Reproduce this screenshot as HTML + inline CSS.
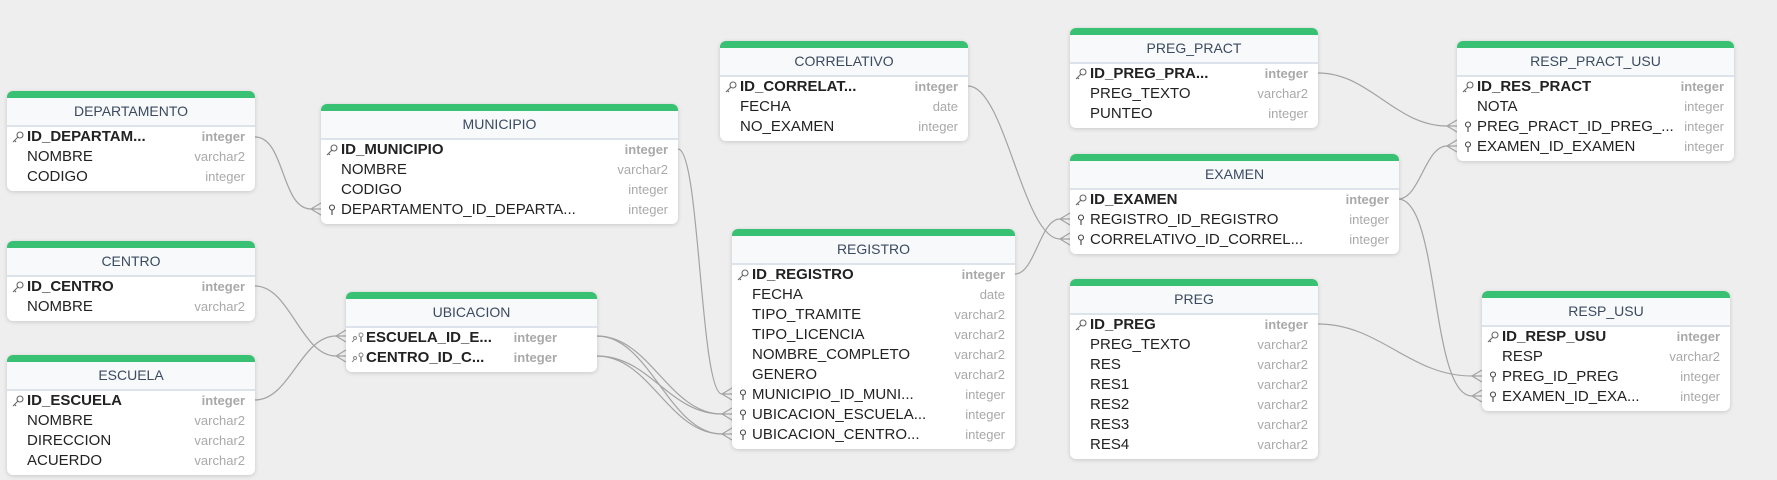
<!DOCTYPE html>
<html><head><meta charset="utf-8">
<style>
body{margin:0;width:1777px;height:480px;background:#eeeeee;position:relative;overflow:hidden;font-family:"Liberation Sans",sans-serif}
svg.c{position:absolute;left:0;top:0;z-index:0}
.t{position:absolute;background:#fff;border-radius:6px;box-shadow:0 1px 4px rgba(0,0,0,.16);border-top:7px solid #38c172;padding-bottom:4px;z-index:1}
.h{height:27px;line-height:27px;text-align:center;font-size:14px;color:#3b4a5f;background:#f7f9fb;border-bottom:2px solid #dde3ea}
.r{height:20px;position:relative;font-size:15px;line-height:20px;color:#222;white-space:nowrap}
.n{position:absolute;left:20px}
.ty{position:absolute;right:10px;font-size:13px;color:#a9a9a9}
.b .n,.b .ty{font-weight:bold}
.i{position:absolute;left:5px;top:4px}
</style></head><body>
<svg class="c" width="1777" height="480" fill="none" stroke="#a3a3a3" stroke-width="1.2">
<path d="M255,137 C285,137 281,209 311,209"/>
<path d="M678,149 C700,149 700,394 722,394"/>
<path d="M255,286 C290,286 301,356 336,356"/>
<path d="M255,400 C290,400 301,336 336,336"/>
<path d="M597,336 C650,336 669,414 722,414"/>
<path d="M597,336 C650,336 669,434 722,434"/>
<path d="M597,356 C650,356 669,414 722,414"/>
<path d="M597,356 C650,356 669,434 722,434"/>
<path d="M968,86 C1005,86 1023,239 1060,239"/>
<path d="M1015,274 C1035,274 1040,219 1060,219"/>
<path d="M1318,73 C1370,73 1395,126 1447,126"/>
<path d="M1398,199 C1420,199 1425,146 1447,146"/>
<path d="M1398,199 C1440,199 1430,396 1472,396"/>
<path d="M1318,324 C1380,324 1410,376 1472,376"/>
<g>
<path d="M321,203 L311,209 L321,215 M311,209 L321,209"/>
<path d="M732,388 L722,394 L732,400 M722,394 L732,394"/>
<path d="M346,350 L336,356 L346,362 M336,356 L346,356"/>
<path d="M346,330 L336,336 L346,342 M336,336 L346,336"/>
<path d="M732,408 L722,414 L732,420 M722,414 L732,414"/>
<path d="M732,428 L722,434 L732,440 M722,434 L732,434"/>
<path d="M1070,233 L1060,239 L1070,245 M1060,239 L1070,239"/>
<path d="M1070,213 L1060,219 L1070,225 M1060,219 L1070,219"/>
<path d="M1457,120 L1447,126 L1457,132 M1447,126 L1457,126"/>
<path d="M1457,140 L1447,146 L1457,152 M1447,146 L1457,146"/>
<path d="M1482,390 L1472,396 L1482,402 M1472,396 L1482,396"/>
<path d="M1482,370 L1472,376 L1482,382 M1472,376 L1482,376"/>
</g>
</svg>

<!-- DEPARTAMENTO -->
<div class="t" style="left:7px;top:91px;width:248px">
<div class="h">DEPARTAMENTO</div>
<div class="r b"><svg class="i" width="12" height="12" fill="none" stroke="#666" stroke-width="1.1"><circle cx="8" cy="4" r="3"/><path d="M6,6 L1,11 M2.5,9.5 L4,11"/></svg><span class="n">ID_DEPARTAM...</span><span class="ty">integer</span></div>
<div class="r"><span class="n">NOMBRE</span><span class="ty">varchar2</span></div>
<div class="r"><span class="n">CODIGO</span><span class="ty">integer</span></div>
</div>

<!-- MUNICIPIO -->
<div class="t" style="left:321px;top:104px;width:357px">
<div class="h">MUNICIPIO</div>
<div class="r b"><svg class="i" width="12" height="12" fill="none" stroke="#666" stroke-width="1.1"><circle cx="8" cy="4" r="3"/><path d="M6,6 L1,11 M2.5,9.5 L4,11"/></svg><span class="n">ID_MUNICIPIO</span><span class="ty">integer</span></div>
<div class="r"><span class="n">NOMBRE</span><span class="ty">varchar2</span></div>
<div class="r"><span class="n">CODIGO</span><span class="ty">integer</span></div>
<div class="r"><svg class="i" width="12" height="12" fill="none" stroke="#444" stroke-width="1.1"><circle cx="6" cy="3.5" r="2.5"/><path d="M6,6 L6,11"/></svg><span class="n">DEPARTAMENTO_ID_DEPARTA...</span><span class="ty">integer</span></div>
</div>

<!-- CENTRO -->
<div class="t" style="left:7px;top:241px;width:248px">
<div class="h">CENTRO</div>
<div class="r b"><svg class="i" width="12" height="12" fill="none" stroke="#666" stroke-width="1.1"><circle cx="8" cy="4" r="3"/><path d="M6,6 L1,11 M2.5,9.5 L4,11"/></svg><span class="n">ID_CENTRO</span><span class="ty">integer</span></div>
<div class="r"><span class="n">NOMBRE</span><span class="ty">varchar2</span></div>
</div>

<!-- UBICACION -->
<div class="t" style="left:346px;top:292px;width:251px">
<div class="h">UBICACION</div>
<div class="r b"><svg class="i" width="14" height="12" fill="none" stroke="#888" stroke-width="1"><circle cx="4" cy="6" r="1.5"/><path d="M3,8 L1,10"/><circle cx="10" cy="3" r="2"/><path d="M10,5 L10,10" stroke="#444"/></svg><span class="n">ESCUELA_ID_E...</span><span class="ty" style="right:40px">integer</span></div>
<div class="r b"><svg class="i" width="14" height="12" fill="none" stroke="#888" stroke-width="1"><circle cx="4" cy="6" r="1.5"/><path d="M3,8 L1,10"/><circle cx="10" cy="3" r="2"/><path d="M10,5 L10,10" stroke="#444"/></svg><span class="n">CENTRO_ID_C...</span><span class="ty" style="right:40px">integer</span></div>
</div>

<!-- ESCUELA -->
<div class="t" style="left:7px;top:355px;width:248px">
<div class="h">ESCUELA</div>
<div class="r b"><svg class="i" width="12" height="12" fill="none" stroke="#666" stroke-width="1.1"><circle cx="8" cy="4" r="3"/><path d="M6,6 L1,11 M2.5,9.5 L4,11"/></svg><span class="n">ID_ESCUELA</span><span class="ty">integer</span></div>
<div class="r"><span class="n">NOMBRE</span><span class="ty">varchar2</span></div>
<div class="r"><span class="n">DIRECCION</span><span class="ty">varchar2</span></div>
<div class="r"><span class="n">ACUERDO</span><span class="ty">varchar2</span></div>
</div>

<!-- CORRELATIVO -->
<div class="t" style="left:720px;top:41px;width:248px">
<div class="h">CORRELATIVO</div>
<div class="r b"><svg class="i" width="12" height="12" fill="none" stroke="#666" stroke-width="1.1"><circle cx="8" cy="4" r="3"/><path d="M6,6 L1,11 M2.5,9.5 L4,11"/></svg><span class="n">ID_CORRELAT...</span><span class="ty">integer</span></div>
<div class="r"><span class="n">FECHA</span><span class="ty">date</span></div>
<div class="r"><span class="n">NO_EXAMEN</span><span class="ty">integer</span></div>
</div>

<!-- REGISTRO -->
<div class="t" style="left:732px;top:229px;width:283px">
<div class="h">REGISTRO</div>
<div class="r b"><svg class="i" width="12" height="12" fill="none" stroke="#666" stroke-width="1.1"><circle cx="8" cy="4" r="3"/><path d="M6,6 L1,11 M2.5,9.5 L4,11"/></svg><span class="n">ID_REGISTRO</span><span class="ty">integer</span></div>
<div class="r"><span class="n">FECHA</span><span class="ty">date</span></div>
<div class="r"><span class="n">TIPO_TRAMITE</span><span class="ty">varchar2</span></div>
<div class="r"><span class="n">TIPO_LICENCIA</span><span class="ty">varchar2</span></div>
<div class="r"><span class="n">NOMBRE_COMPLETO</span><span class="ty">varchar2</span></div>
<div class="r"><span class="n">GENERO</span><span class="ty">varchar2</span></div>
<div class="r"><svg class="i" width="12" height="12" fill="none" stroke="#444" stroke-width="1.1"><circle cx="6" cy="3.5" r="2.5"/><path d="M6,6 L6,11"/></svg><span class="n">MUNICIPIO_ID_MUNI...</span><span class="ty">integer</span></div>
<div class="r"><svg class="i" width="12" height="12" fill="none" stroke="#444" stroke-width="1.1"><circle cx="6" cy="3.5" r="2.5"/><path d="M6,6 L6,11"/></svg><span class="n">UBICACION_ESCUELA...</span><span class="ty">integer</span></div>
<div class="r"><svg class="i" width="12" height="12" fill="none" stroke="#444" stroke-width="1.1"><circle cx="6" cy="3.5" r="2.5"/><path d="M6,6 L6,11"/></svg><span class="n">UBICACION_CENTRO...</span><span class="ty">integer</span></div>
</div>

<!-- PREG_PRACT -->
<div class="t" style="left:1070px;top:28px;width:248px">
<div class="h">PREG_PRACT</div>
<div class="r b"><svg class="i" width="12" height="12" fill="none" stroke="#666" stroke-width="1.1"><circle cx="8" cy="4" r="3"/><path d="M6,6 L1,11 M2.5,9.5 L4,11"/></svg><span class="n">ID_PREG_PRA...</span><span class="ty">integer</span></div>
<div class="r"><span class="n">PREG_TEXTO</span><span class="ty">varchar2</span></div>
<div class="r"><span class="n">PUNTEO</span><span class="ty">integer</span></div>
</div>

<!-- EXAMEN -->
<div class="t" style="left:1070px;top:154px;width:329px">
<div class="h">EXAMEN</div>
<div class="r b"><svg class="i" width="12" height="12" fill="none" stroke="#666" stroke-width="1.1"><circle cx="8" cy="4" r="3"/><path d="M6,6 L1,11 M2.5,9.5 L4,11"/></svg><span class="n">ID_EXAMEN</span><span class="ty">integer</span></div>
<div class="r"><svg class="i" width="12" height="12" fill="none" stroke="#444" stroke-width="1.1"><circle cx="6" cy="3.5" r="2.5"/><path d="M6,6 L6,11"/></svg><span class="n">REGISTRO_ID_REGISTRO</span><span class="ty">integer</span></div>
<div class="r"><svg class="i" width="12" height="12" fill="none" stroke="#444" stroke-width="1.1"><circle cx="6" cy="3.5" r="2.5"/><path d="M6,6 L6,11"/></svg><span class="n">CORRELATIVO_ID_CORREL...</span><span class="ty">integer</span></div>
</div>

<!-- PREG -->
<div class="t" style="left:1070px;top:279px;width:248px">
<div class="h">PREG</div>
<div class="r b"><svg class="i" width="12" height="12" fill="none" stroke="#666" stroke-width="1.1"><circle cx="8" cy="4" r="3"/><path d="M6,6 L1,11 M2.5,9.5 L4,11"/></svg><span class="n">ID_PREG</span><span class="ty">integer</span></div>
<div class="r"><span class="n">PREG_TEXTO</span><span class="ty">varchar2</span></div>
<div class="r"><span class="n">RES</span><span class="ty">varchar2</span></div>
<div class="r"><span class="n">RES1</span><span class="ty">varchar2</span></div>
<div class="r"><span class="n">RES2</span><span class="ty">varchar2</span></div>
<div class="r"><span class="n">RES3</span><span class="ty">varchar2</span></div>
<div class="r"><span class="n">RES4</span><span class="ty">varchar2</span></div>
</div>

<!-- RESP_PRACT_USU -->
<div class="t" style="left:1457px;top:41px;width:277px">
<div class="h">RESP_PRACT_USU</div>
<div class="r b"><svg class="i" width="12" height="12" fill="none" stroke="#666" stroke-width="1.1"><circle cx="8" cy="4" r="3"/><path d="M6,6 L1,11 M2.5,9.5 L4,11"/></svg><span class="n">ID_RES_PRACT</span><span class="ty">integer</span></div>
<div class="r"><span class="n">NOTA</span><span class="ty">integer</span></div>
<div class="r"><svg class="i" width="12" height="12" fill="none" stroke="#444" stroke-width="1.1"><circle cx="6" cy="3.5" r="2.5"/><path d="M6,6 L6,11"/></svg><span class="n">PREG_PRACT_ID_PREG_...</span><span class="ty">integer</span></div>
<div class="r"><svg class="i" width="12" height="12" fill="none" stroke="#444" stroke-width="1.1"><circle cx="6" cy="3.5" r="2.5"/><path d="M6,6 L6,11"/></svg><span class="n">EXAMEN_ID_EXAMEN</span><span class="ty">integer</span></div>
</div>

<!-- RESP_USU -->
<div class="t" style="left:1482px;top:291px;width:248px">
<div class="h">RESP_USU</div>
<div class="r b"><svg class="i" width="12" height="12" fill="none" stroke="#666" stroke-width="1.1"><circle cx="8" cy="4" r="3"/><path d="M6,6 L1,11 M2.5,9.5 L4,11"/></svg><span class="n">ID_RESP_USU</span><span class="ty">integer</span></div>
<div class="r"><span class="n">RESP</span><span class="ty">varchar2</span></div>
<div class="r"><svg class="i" width="12" height="12" fill="none" stroke="#444" stroke-width="1.1"><circle cx="6" cy="3.5" r="2.5"/><path d="M6,6 L6,11"/></svg><span class="n">PREG_ID_PREG</span><span class="ty">integer</span></div>
<div class="r"><svg class="i" width="12" height="12" fill="none" stroke="#444" stroke-width="1.1"><circle cx="6" cy="3.5" r="2.5"/><path d="M6,6 L6,11"/></svg><span class="n">EXAMEN_ID_EXA...</span><span class="ty">integer</span></div>
</div>

</body></html>
